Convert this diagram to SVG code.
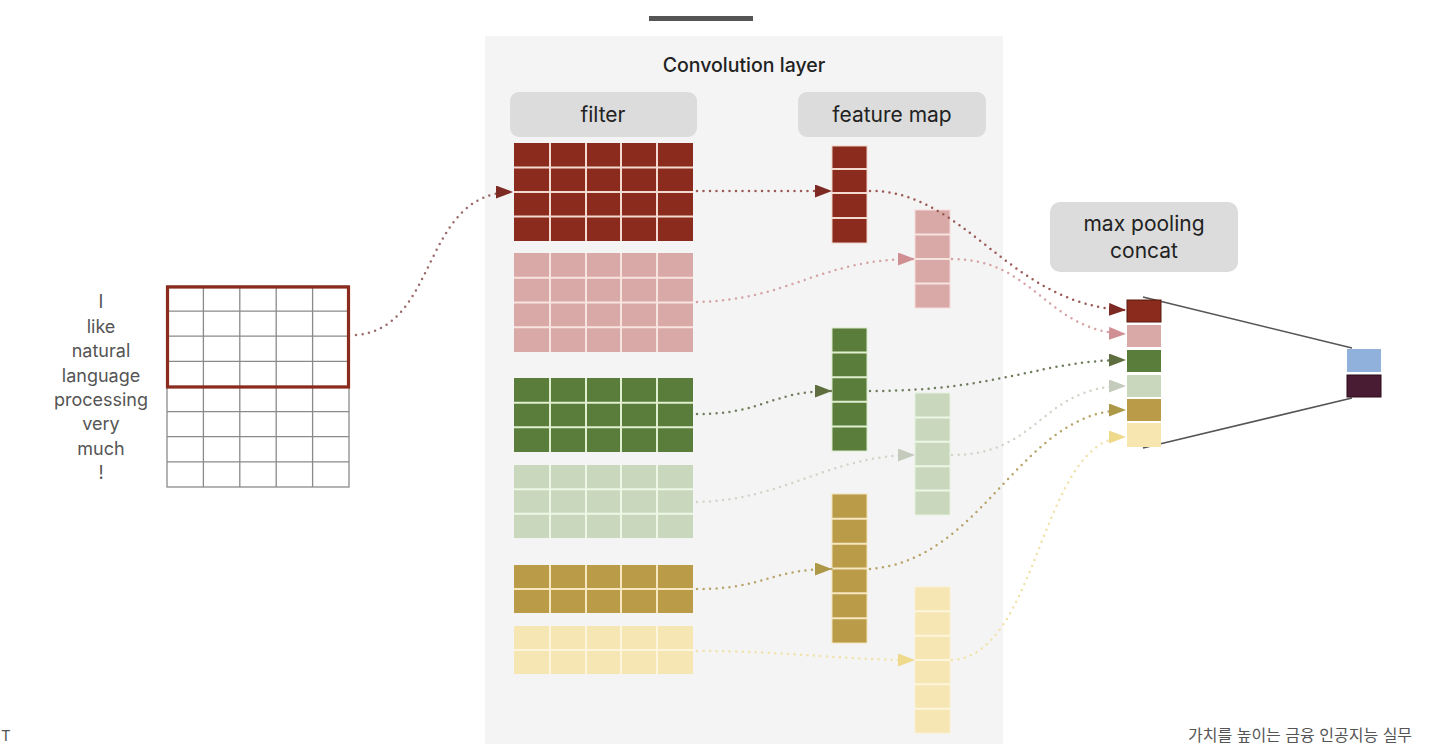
<svg xmlns="http://www.w3.org/2000/svg" width="1444" height="744" viewBox="0 0 1444 744">
<style>
text{font-family:Inter,"Liberation Sans",Arial,sans-serif;}
.lbl{font-size:21px;fill:#222;text-anchor:middle;}
.word{font-size:18px;fill:#555;text-anchor:middle;}
.lblbox{fill:#dcdcdc;}
.gap{stroke-width:2;fill:none;}
.grid{stroke:#8a8a8a;stroke-width:1.3;fill:none;}
.dot{fill:none;stroke-width:2.5;stroke-linecap:round;stroke-dasharray:0 6.5;}
</style>
<defs>
<marker id="mR" markerUnits="userSpaceOnUse" markerWidth="18" markerHeight="14" refX="17" refY="6.5" orient="auto"><path d="M0,0 L17,6.5 L0,13 Z" fill="#7e2a24"/></marker>
<marker id="mP" markerUnits="userSpaceOnUse" markerWidth="18" markerHeight="14" refX="17" refY="6.5" orient="auto"><path d="M0,0 L17,6.5 L0,13 Z" fill="#cf8f93"/></marker>
<marker id="mG" markerUnits="userSpaceOnUse" markerWidth="18" markerHeight="14" refX="17" refY="6.5" orient="auto"><path d="M0,0 L17,6.5 L0,13 Z" fill="#5e6e3e"/></marker>
<marker id="mL" markerUnits="userSpaceOnUse" markerWidth="18" markerHeight="14" refX="17" refY="6.5" orient="auto"><path d="M0,0 L17,6.5 L0,13 Z" fill="#c4cbbd"/></marker>
<marker id="mO" markerUnits="userSpaceOnUse" markerWidth="18" markerHeight="14" refX="17" refY="6.5" orient="auto"><path d="M0,0 L17,6.5 L0,13 Z" fill="#ad9848"/></marker>
<marker id="mY" markerUnits="userSpaceOnUse" markerWidth="18" markerHeight="14" refX="17" refY="6.5" orient="auto"><path d="M0,0 L17,6.5 L0,13 Z" fill="#efd98a"/></marker>
</defs>
<rect width="1444" height="744" fill="#ffffff"/>
<rect x="649" y="16" width="104" height="5" fill="#555555"/>
<g id="conv-layer">
<rect x="485" y="36" width="518" height="710" fill="#f4f4f4"/>
<text x="744" y="72" style="font-size:19.5px;font-weight:500;fill:#222;text-anchor:middle">Convolution layer</text>
</g>
<g id="filter-label"><rect class="lblbox" x="510" y="92" width="187" height="45" rx="9"/><text class="lbl" x="603" y="122">filter</text></g>
<g id="featuremap-label"><rect class="lblbox" x="798" y="92" width="188" height="45" rx="9"/><text class="lbl" x="892" y="122">feature map</text></g>
<g id="pool-label"><rect class="lblbox" x="1050" y="202" width="188" height="70" rx="10"/><text class="lbl" x="1144" y="231">max pooling</text><text class="lbl" x="1144" y="258">concat</text></g>

<g id="input">
<text class="word" x="101" y="308">I</text>
<text class="word" x="101" y="333">like</text>
<text class="word" x="101" y="357">natural</text>
<text class="word" x="101" y="382">language</text>
<text class="word" x="101" y="406">processing</text>
<text class="word" x="101" y="430">very</text>
<text class="word" x="101" y="455">much</text>
<text class="word" x="101" y="479">!</text>
<rect class="grid" x="167" y="286" width="182" height="201"/>
<path class="grid" d="M203.4,286V487M239.8,286V487M276.2,286V487M312.6,286V487M167,311.1H349M167,336.2H349M167,361.4H349M167,386.5H349M167,411.6H349M167,436.7H349M167,461.9H349"/>
<rect x="167.5" y="287" width="181" height="100" fill="none" stroke="#8a2b1d" stroke-width="3.2"/>
</g>

<g id="filter1"><rect x="514" y="143" width="179" height="98" fill="#8a2b1d"/><path class="gap" stroke="#f3d9cf" d="M550,143V241M586,143V241M621,143V241M657,143V241M514,167.5H693M514,192H693M514,216.5H693"/></g>
<g id="filter2"><rect x="514" y="253" width="179" height="99" fill="#d9a9a7"/><path class="gap" stroke="#f8e4df" d="M550,253V352M586,253V352M621,253V352M657,253V352M514,277.8H693M514,302.5H693M514,327.2H693"/></g>
<g id="filter3"><rect x="514" y="378" width="179" height="74" fill="#5b7d3b"/><path class="gap" stroke="#e0efcf" d="M550,378V452M586,378V452M621,378V452M657,378V452M514,402.7H693M514,427.3H693"/></g>
<g id="filter4"><rect x="514" y="465" width="179" height="73" fill="#c9d8bd"/><path class="gap" stroke="#eef7e6" d="M550,465V538M586,465V538M621,465V538M657,465V538M514,489.3H693M514,513.7H693"/></g>
<g id="filter5"><rect x="514" y="565" width="179" height="48" fill="#b99b48"/><path class="gap" stroke="#f7e7c0" d="M550,565V613M586,565V613M621,565V613M657,565V613M514,589H693"/></g>
<g id="filter6"><rect x="514" y="626" width="179" height="48" fill="#f6e6b3"/><path class="gap" stroke="#fdf6dd" d="M550,626V674M586,626V674M621,626V674M657,626V674M514,650H693"/></g>

<g id="fmap1"><rect x="832" y="146" width="35" height="97" fill="#8a2b1d" stroke="#f0d0c4" stroke-width="1"/><path class="gap" stroke="#f3d9cf" d="M832,169H867M832,193H867M832,218H867"/></g>
<g id="fmap2"><rect x="915" y="210" width="35" height="98" fill="#d9a9a7" stroke="#f5dcd7" stroke-width="1"/><path class="gap" stroke="#f8e4df" d="M915,234.5H950M915,259H950M915,283.5H950"/></g>
<g id="fmap3"><rect x="832" y="328" width="35" height="123" fill="#5b7d3b" stroke="#d8e8c8" stroke-width="1"/><path class="gap" stroke="#e0efcf" d="M832,352.6H867M832,377.2H867M832,401.8H867M832,426.4H867"/></g>
<g id="fmap4"><rect x="915" y="393" width="35" height="122" fill="#c9d8bd" stroke="#e8f2df" stroke-width="1"/><path class="gap" stroke="#eef7e6" d="M915,417.4H950M915,441.8H950M915,466.2H950M915,490.6H950"/></g>
<g id="fmap5"><rect x="832" y="494" width="35" height="149" fill="#b99b48" stroke="#f3e2b8" stroke-width="1"/><path class="gap" stroke="#f7e7c0" d="M832,518.8H867M832,543.7H867M832,568.5H867M832,593.3H867M832,618.2H867"/></g>
<g id="fmap6"><rect x="915" y="587" width="35" height="146" fill="#f6e6b3" stroke="#fbf0d0" stroke-width="1"/><path class="gap" stroke="#fdf6dd" d="M915,611.3H950M915,635.7H950M915,660H950M915,684.3H950M915,708.7H950"/></g>

<g id="connectors">
<path class="dot" stroke="#9a6b6b" d="M356,335 C440,328 420,192 513,192" marker-end="url(#mR)"/>
<path class="dot" stroke="#9a5a55" d="M697,191 L832,191" marker-end="url(#mR)"/>
<path class="dot" stroke="#9a5a55" d="M870,191 C965,190 1010,306 1126,310" marker-end="url(#mR)"/>
<path class="dot" stroke="#d6a3a5" d="M697,302 C790,300 820,259 915,259" marker-end="url(#mP)"/>
<path class="dot" stroke="#d6a3a5" d="M952,259 C1035,259 1045,331 1126,334" marker-end="url(#mP)"/>
<path class="dot" stroke="#6f7e5d" d="M697,414 C765,414 770,391 832,391" marker-end="url(#mG)"/>
<path class="dot" stroke="#6f7e5d" d="M870,391 C1000,391 1040,360 1126,360" marker-end="url(#mG)"/>
<path class="dot" stroke="#cfd6c8" d="M697,502 C785,500 830,455 915,455" marker-end="url(#mL)"/>
<path class="dot" stroke="#cfd6c8" d="M952,455 C1040,455 1040,386 1126,386" marker-end="url(#mL)"/>
<path class="dot" stroke="#b8a468" d="M697,589 C765,589 770,569 832,569" marker-end="url(#mO)"/>
<path class="dot" stroke="#b8a468" d="M870,569 C985,560 1020,410 1126,410" marker-end="url(#mO)"/>
<path class="dot" stroke="#f0e2a8" d="M697,651 C790,651 840,660 915,660" marker-end="url(#mY)"/>
<path class="dot" stroke="#f0e2a8" d="M952,660 C1040,655 1040,437 1126,437" marker-end="url(#mY)"/>
<path d="M1143,297 L1352,348 M1143,448 L1352,398" stroke="#555555" stroke-width="1.6" fill="none"/>
</g>

<g id="concat">
<rect x="1127" y="300" width="34" height="22" fill="#8a2b1d" stroke="#5a1a10" stroke-width="1"/>
<rect x="1127" y="325" width="34" height="22" fill="#d9a9a7"/>
<rect x="1127" y="350" width="34" height="22" fill="#5b7d3b"/>
<rect x="1127" y="375" width="34" height="22" fill="#c9d8bd"/>
<rect x="1127" y="399" width="34" height="22" fill="#b99b48"/>
<rect x="1127" y="423" width="34" height="24" fill="#f7e6b0"/>
</g>
<g id="output">
<rect x="1347" y="349" width="34" height="23" fill="#8fb1dc"/>
<rect x="1347" y="375" width="34" height="22" fill="#4a1c33" stroke="#2a0a18" stroke-width="1"/>
</g>
<text x="1" y="741" style="font-size:15px;fill:#555">T</text>
<text x="1188" y="741" style="font-size:16px;fill:#555;font-family:Inter,'Noto Sans CJK KR',sans-serif">가치를 높이는 금융 인공지능 실무</text>
</svg>
